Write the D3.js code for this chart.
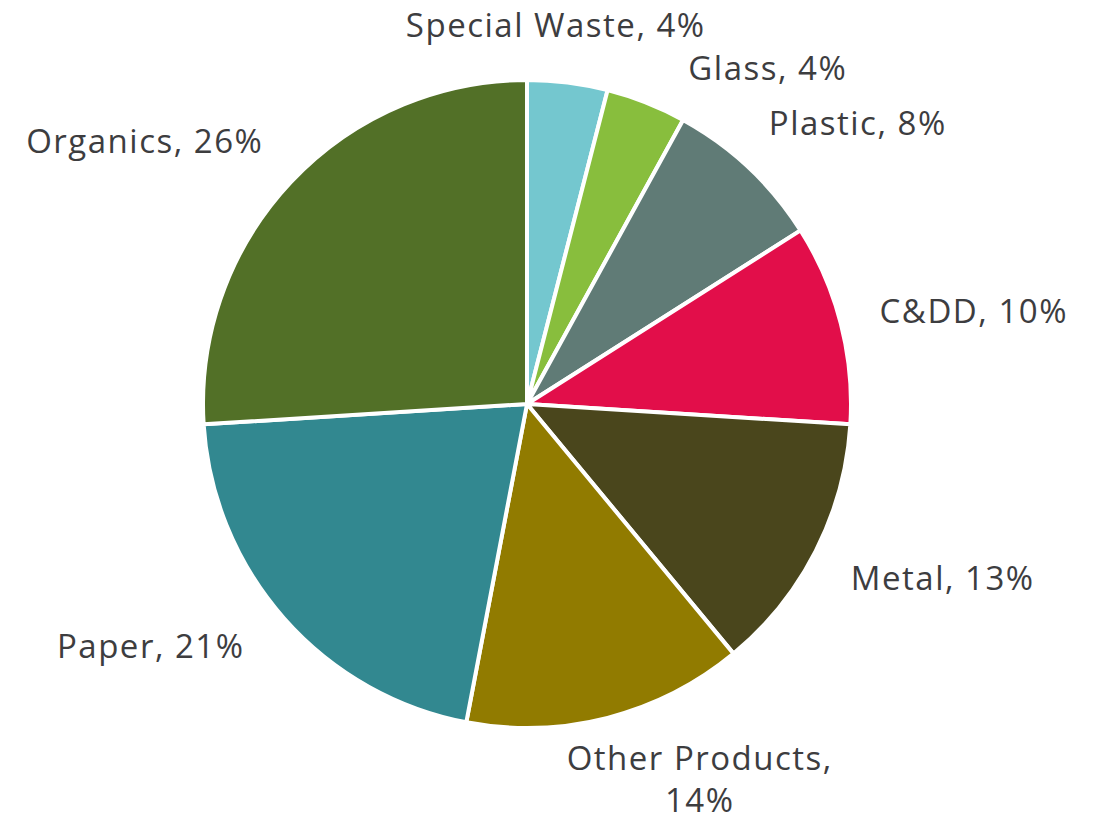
<!DOCTYPE html>
<html>
<head>
<meta charset="utf-8">
<script src="https://cdn.jsdelivr.net/npm/d3@7"></script>
<style>
  html, body { margin: 0; padding: 0; background: #ffffff; }
  svg { display: block; }
  .lbl { font-family: "Open Sans", "Lato", sans-serif; fill: #3d3d3f; }
</style>
</head>
<body>
<svg id="chart" width="1099" height="824"></svg>
<script>
// Waste composition by material (percent of total)
const categories = ["Special Waste", "Glass", "Plastic", "C&DD", "Metal", "Other Products", "Paper", "Organics"];
const shares = [4, 4, 8, 10, 13, 14, 21, 26];
const sliceColors = ["#74c7cf", "#88be3d", "#607b76", "#e20e4a", "#4a461c", "#917b00", "#328890", "#527027"];

// Label text lines (the long one wraps onto two lines)
const labelLines = categories.map((c, i) =>
  c === "Other Products" ? [c + ",", shares[i] + "%"] : [c + ", " + shares[i] + "%"]);

// Label anchor offsets (centre of text, first baseline) relative to the pie centre
const labelOffsets = [
  [28, -367], [240, -324], [330, -269], [446, -81],
  [415, 186], [172, 366], [-377, 254], [-383, -251]
];

const width = 1099, height = 824;
const cx = 527, cy = 404, radius = 324;

const svg = d3.select("#chart");
const g = svg.append("g").attr("transform", `translate(${cx},${cy})`);

const pie = d3.pie().sort(null).value(d => d.value);
const arc = d3.arc().innerRadius(0).outerRadius(radius);

const data = categories.map((c, i) => ({ name: c, value: shares[i], color: sliceColors[i], lines: labelLines[i], off: labelOffsets[i] }));
const arcs = pie(data);

g.selectAll("path.slice")
  .data(arcs)
  .join("path")
  .attr("class", "slice")
  .attr("d", arc)
  .attr("fill", d => d.data.color)
  .attr("stroke", "#ffffff")
  .attr("stroke-width", 4)
  .attr("stroke-linejoin", "round");

const fontSize = 33;
const letterSpacing = 1.5;
const labels = g.selectAll("text.lbl")
  .data(arcs)
  .join("text")
  .attr("class", "lbl")
  .attr("text-anchor", "middle")
  .attr("font-size", fontSize)
  .attr("letter-spacing", letterSpacing)
  .attr("x", d => d.data.off[0])
  .attr("y", d => d.data.off[1]);

labels.each(function(d) {
  const t = d3.select(this);
  d.data.lines.forEach((line, k) => {
    t.append("tspan")
      .attr("x", d.data.off[0] + letterSpacing / 2)
      .attr("dy", k === 0 ? 0 : 42)
      .text(line);
  });
});
</script>
</body>
</html>
